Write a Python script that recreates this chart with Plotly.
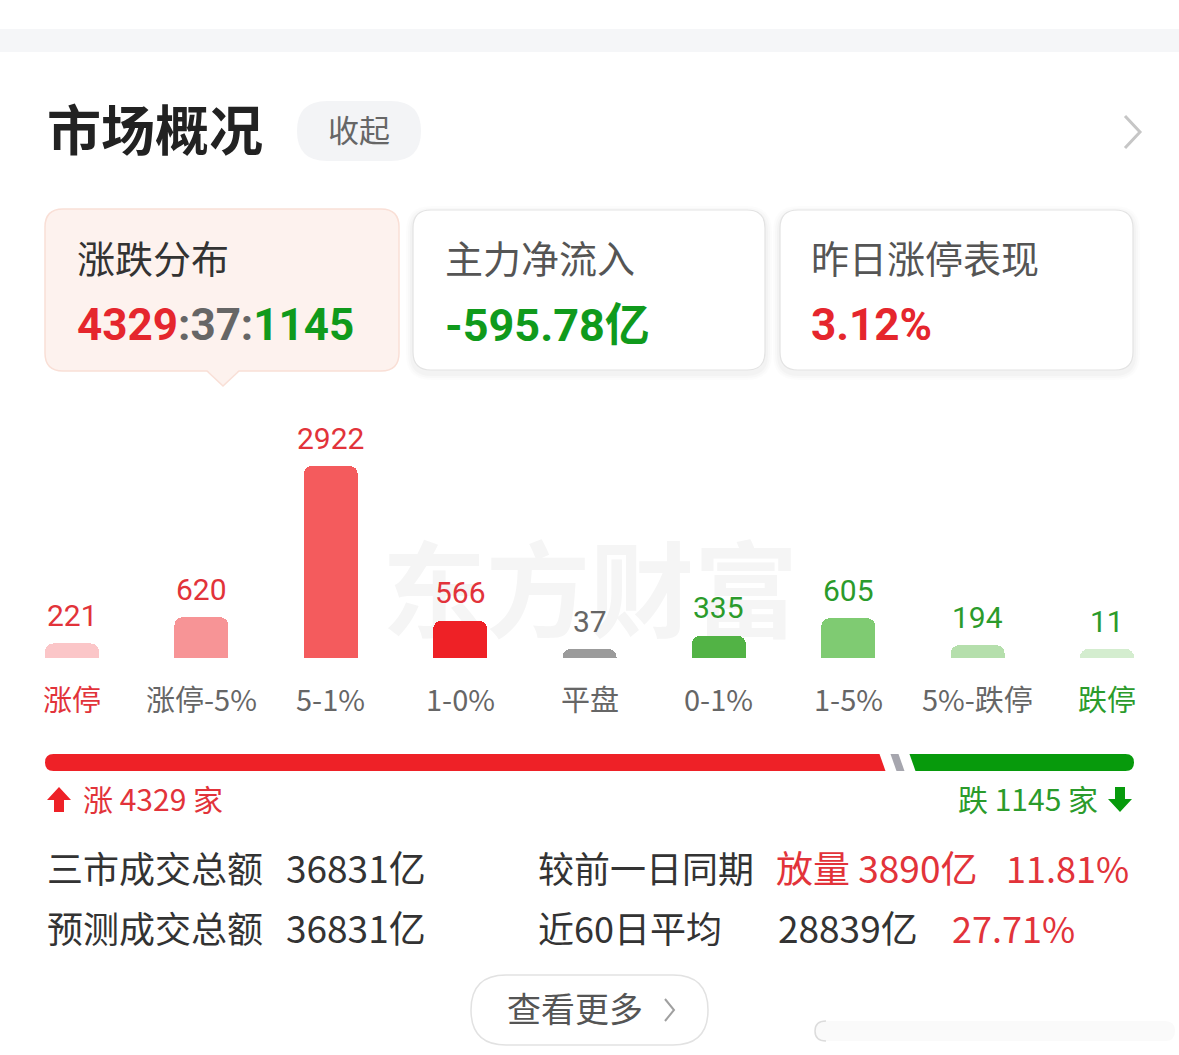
import plotly.graph_objects as go

# ---------------- data ----------------
categories = ["涨停", "涨停-5%", "5-1%", "1-0%", "平盘", "0-1%", "1-5%", "5%-跌停", "跌停"]
counts = [221, 620, 2922, 566, 37, 335, 605, 194, 11]
bar_colors = ["#fbc6c8", "#f79496", "#f45b5d", "#ee2126", "#9b9b9b",
              "#52b345", "#7fcb72", "#b5dfac", "#d4edcf"]
value_colors = ["#e2333a"] * 4 + ["#666666"] + ["#2b9b2b"] * 4
cat_colors = ["#e2333a"] + ["#666666"] * 7 + ["#2b9b2b"]

up_count = 4329
flat_count = 37
down_count = 1145
net_inflow = "-595.78亿"
limit_up_perf = "3.12%"

card_titles = ["涨跌分布", "主力净流入", "昨日涨停表现"]

stat_labels = ["三市成交总额", "预测成交总额"]
stat_values = ["36831亿", "36831亿"]
cmp_labels = ["较前一日同期", "近60日平均"]
cmp_values = ["放量 3890亿", "28839亿"]
cmp_pcts = ["11.81%", "27.71%"]

# ---------------- layout constants (pixels) ----------------
W, H = 1179, 1055
CJK = "Noto Sans CJK SC"
NUM = "Roboto, 'Noto Sans CJK SC'"
RED = "#e5262d"
GREEN = "#109a1c"
DARK = "#333333"

BASE_Y = 658          # bar baseline
TOP_Y = 466           # top of tallest bar
X_FIRST, X_LAST = 72, 1107
BAR_W_PX = 54
MIN_BAR_PX = 9

fig = go.Figure()

# watermark on the pixel axes (drawn beneath the bars)
fig.add_trace(go.Scatter(x=[590], y=[604], mode="text", text=["东方财富"],
                         textfont=dict(family=CJK, size=104, color="#f5f5f5", weight=700),
                         hoverinfo="skip", showlegend=False, xaxis="x", yaxis="y"))

# bar axes scale
px_per_cat = (X_LAST - X_FIRST) / (len(categories) - 1)
xr0 = -X_FIRST / px_per_cat
xr1 = xr0 + W / px_per_cat
units_per_px = max(counts) / (BASE_Y - TOP_Y)
yr0 = -(H - BASE_Y) * units_per_px
yr1 = BASE_Y * units_per_px
disp = [max(v, MIN_BAR_PX * units_per_px) for v in counts]

fig.add_trace(go.Bar(x=categories, y=disp, width=BAR_W_PX / px_per_cat,
                     marker=dict(color=bar_colors, cornerradius=8, line=dict(width=0)),
                     hoverinfo="skip", showlegend=False, xaxis="x2", yaxis="y2"))

shapes = []
ann = []


def rrect(x0, y0, x1, y1, r):
    return (f"M{x0+r},{y0} L{x1-r},{y0} Q{x1},{y0} {x1},{y0+r} L{x1},{y1-r} "
            f"Q{x1},{y1} {x1-r},{y1} L{x0+r},{y1} Q{x0},{y1} {x0},{y1-r} "
            f"L{x0},{y0+r} Q{x0},{y0} {x0+r},{y0} Z")


def path(p, fill, line=None, lw=0, layer="below"):
    shapes.append(dict(type="path", path=p, xref="x", yref="y", fillcolor=fill,
                       line=dict(color=line or "rgba(0,0,0,0)", width=lw), layer=layer))


def text(x, y, t, size, color, family=CJK, anchor="left", weight=400):
    ann.append(dict(x=x, y=y, xref="x", yref="y", text=t, showarrow=False,
                    xanchor=anchor, yanchor="middle",
                    font=dict(family=family, size=size, color=color, weight=weight)))


# top grey band
shapes.append(dict(type="rect", x0=0, x1=W, y0=29, y1=52, xref="x", yref="y",
                   fillcolor="#f5f6f8", line=dict(width=0), layer="below"))

# title
text(45, 127, "市场概况", 54, "#222222", weight=700)
path(rrect(297, 101, 421, 161, 30), "#f3f4f6")
text(359, 128, "收起", 31, "#666666", anchor="center")
shapes.append(dict(type="path", path="M1125,116 L1140,132 L1125,148", xref="x", yref="y",
                   line=dict(color="#c6c6c6", width=3), layer="below"))

# cards
cards = [(45, 209, 399, 371), (413, 210, 765, 370), (780, 210, 1133, 370)]
for i, (x0, y0, x1, y1) in enumerate(cards):
    if i == 0:
        path(rrect(x0, y0, x1, y1, 18), "#fdf2ee", "#f9dfd6", 1.5)
        path(f"M207,{y1-1} L223,386 L239,{y1-1} Z", "#fdf2ee")
        shapes.append(dict(type="path", path=f"M207,{y1} L223,386 L239,{y1}",
                           xref="x", yref="y", line=dict(color="#f9dfd6", width=1.5),
                           layer="below"))
    else:
        for k, a in [(7, 0.012), (5, 0.015), (3, 0.02)]:
            path(rrect(x0 - k, y0 - k + 3, x1 + k, y1 + k + 3, 18 + k), f"rgba(0,0,0,{a})")
        path(rrect(x0, y0, x1, y1, 18), "#ffffff", "#e3e3e3", 1.2)

text(75, 256, card_titles[0], 38, DARK)
text(443, 256, card_titles[1], 38, "#555555")
text(809, 256, card_titles[2], 38, "#555555")

ratio = (f"<span style='color:{RED}'>{up_count}</span>"
         f"<span style='color:#666666'>:{flat_count}:</span>"
         f"<span style='color:{GREEN}'>{down_count}</span>")
text(75, 325, ratio, 44, RED, family=NUM, weight=700)
text(443, 325, net_inflow, 45, GREEN, family=NUM, weight=700)
text(809, 325, limit_up_perf, 44, RED, family=NUM, weight=700)

# bar value labels & category labels (bar axes)
for c, v, d, vc, cc in zip(categories, counts, disp, value_colors, cat_colors):
    ann.append(dict(x=c, y=d, xref="x2", yref="y2", text=str(v), showarrow=False,
                    xanchor="center", yanchor="middle", yshift=28,
                    font=dict(family=NUM, size=30, color=vc)))
    ann.append(dict(x=c, y=0, xref="x2", yref="y2", text=c, showarrow=False,
                    xanchor="center", yanchor="middle", yshift=-40,
                    font=dict(family=CJK, size=29, color=cc)))

# progress bar
PX0, PX1, PY0, PY1 = 45, 1134, 754, 771
r = (PY1 - PY0) / 2
gap, flat_w, slant = 11, 8, 6
avail = (PX1 - PX0) - 2 * gap - flat_w
red_end = PX0 + avail * up_count / (up_count + down_count)
flat_start = red_end + gap
flat_end = flat_start + flat_w
green_start = flat_end + gap
s = slant / 2
path(f"M{PX0+r},{PY0} L{red_end-s},{PY0} L{red_end+s},{PY1} L{PX0+r},{PY1} "
     f"Q{PX0},{PY1} {PX0},{PY0+r} Q{PX0},{PY0} {PX0+r},{PY0} Z", "#ee2127")
path(f"M{flat_start-s},{PY0} L{flat_end-s},{PY0} L{flat_end+s},{PY1} L{flat_start+s},{PY1} Z",
     "#a6a6ae")
path(f"M{green_start-s},{PY0} L{PX1-r},{PY0} Q{PX1},{PY0} {PX1},{PY0+r} "
     f"Q{PX1},{PY1} {PX1-r},{PY1} L{green_start+s},{PY1} Z", "#079a0c")

# arrows
path("M47,800 L59,787 L71,800 L64,800 L64,812 L54,812 L54,800 Z", "#ee2127")
path("M1115,787 L1125,787 L1125,799 L1132,799 L1120,812 L1108,799 L1115,799 Z", "#079a0c")
text(81, 798, f"涨 {up_count} 家", 30, "#e2333a")
text(1100, 798, f"跌 {down_count} 家", 30, "#2b9b2b", anchor="right")

# stats rows
for i, ry in enumerate([867, 927]):
    text(45, ry, stat_labels[i], 36, DARK)
    text(284, ry, stat_values[i], 37, DARK)
    text(536, ry, cmp_labels[i], 36, DARK)
text(774, 867, cmp_values[0], 37, "#e2333a")
text(1004, 867, cmp_pcts[0], 36, "#e2333a")
text(776, 927, cmp_values[1], 37, DARK)
text(950, 927, cmp_pcts[1], 36, "#e2333a")

# button
path(rrect(471, 975, 708, 1045, 35), "#ffffff", "#e2e2e2", 1.5)
text(575, 1007, "查看更多", 34, "#555555", anchor="center")
shapes.append(dict(type="path", path="M665,999 L674,1010 L665,1021", xref="x", yref="y",
                   line=dict(color="#a0a0a0", width=2), layer="below"))
# faint bottom-right element
path(rrect(815, 1021, 1175, 1041, 10), "#fafafa")
shapes.append(dict(type="path", path="M826,1021 Q815,1021 815,1031 Q815,1041 826,1041",
                   xref="x", yref="y", line=dict(color="#dcdcdc", width=1.5), layer="below"))

fig.update_layout(
    width=W, height=H, margin=dict(l=0, r=0, t=0, b=0),
    paper_bgcolor="#ffffff", plot_bgcolor="rgba(0,0,0,0)",
    showlegend=False, shapes=shapes, annotations=ann,
    xaxis=dict(range=[0, W], visible=False, fixedrange=True, domain=[0, 1]),
    yaxis=dict(range=[H, 0], visible=False, fixedrange=True, domain=[0, 1]),
    xaxis2=dict(type="category", range=[xr0, xr1], visible=False, overlaying="x",
                anchor="y2", fixedrange=True),
    yaxis2=dict(range=[yr0, yr1], visible=False, overlaying="y", anchor="x2",
                fixedrange=True),
    bargap=0,
)

fig.write_html("out.html", config={"displayModeBar": False, "staticPlot": True})
